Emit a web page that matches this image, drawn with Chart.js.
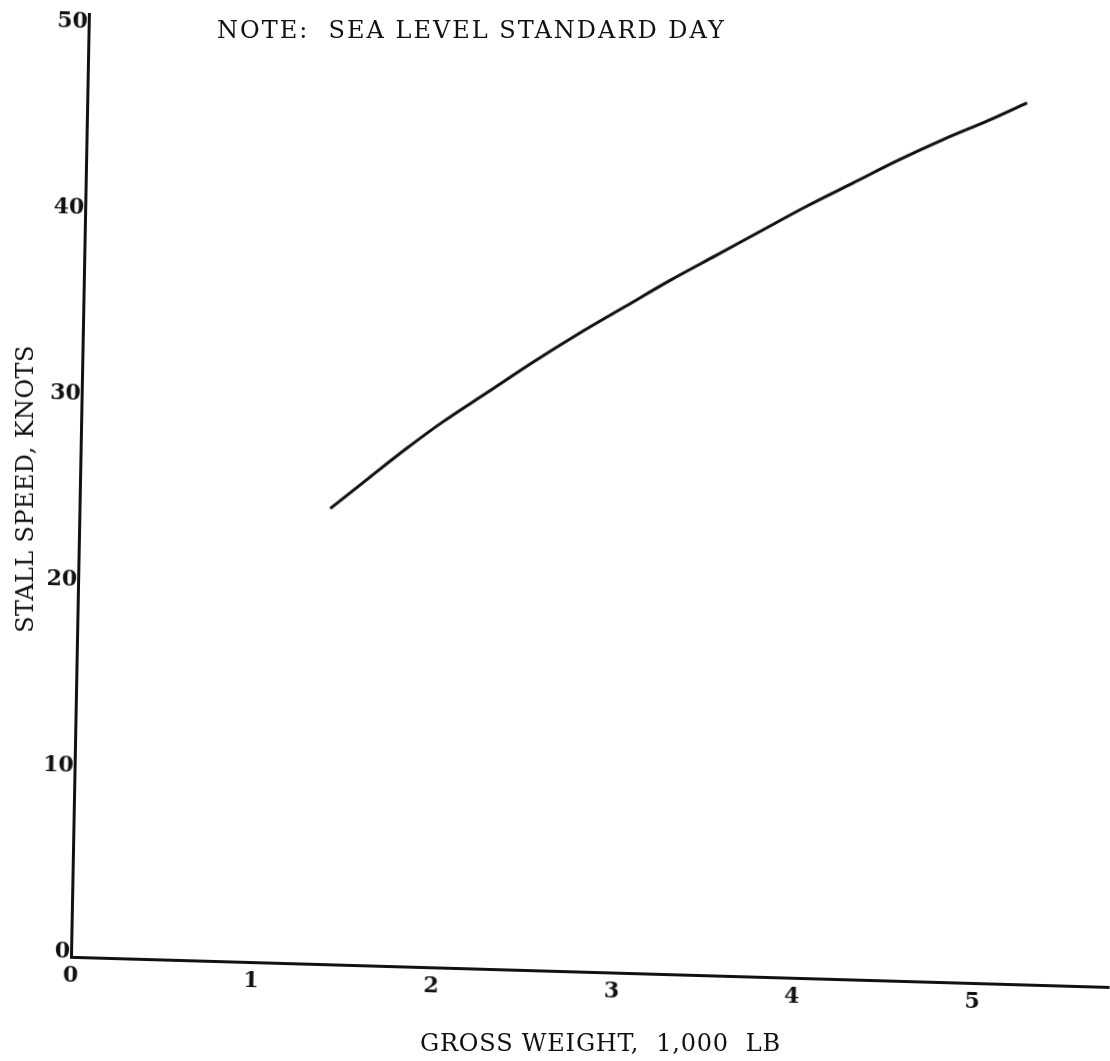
<!DOCTYPE html>
<html>
<head>
<meta charset="UTF-8" />
<title>Stall speed vs gross weight</title>
<script src="https://cdn.jsdelivr.net/npm/chart.js@4.4.1/dist/chart.umd.min.js"></script>
<style>
  html, body { margin: 0; padding: 0; background: #fff; }
  #wrap { position: relative; width: 1110px; height: 1061px; overflow: hidden;
          font-family: "DejaVu Serif", "Liberation Serif", serif; color: #111; }
  /* the sheet sits slightly rotated, so the plot itself is tilted a touch clockwise */
  #plot { position: absolute; left: 0; top: 0; width: 1110px; height: 1061px;
          transform-origin: 71px 957px; transform: matrix(1, 0.029, -0.019, 1, 0, 0); }
  .txt { position: absolute; white-space: pre; font-size: 24px; line-height: 1; }
  #note { left: 217px; top: 18px; letter-spacing: 2px; }
  #xTitle { left: 420px; top: 1031px; letter-spacing: 0.8px; }
  #yTitle { left: 25px; top: 489px; letter-spacing: 0.4px; transform: translate(-50%, -50%) rotate(-90deg); }
</style>
</head>
<body>
<div id="wrap">
  <canvas id="plot" width="1110" height="1061"></canvas>
  <div class="txt" id="note"></div>
  <div class="txt" id="xTitle"></div>
  <div class="txt" id="yTitle"></div>
</div>

<script>
// gross weight (1,000 lb) and stall speed (knots)
const grossWeight = [1.39, 1.6, 1.8, 2.0, 2.25, 2.5, 2.75, 3.0, 3.25, 3.5, 3.75, 4.0, 4.25, 4.5, 4.75, 5.0, 5.21];
const stallSpeed  = [24.5, 26.2, 27.8, 29.3, 31.0, 32.7, 34.3, 35.8, 37.3, 38.7, 40.1, 41.5, 42.8, 44.1, 45.3, 46.4, 47.4];
const xTicks = [0, 1, 2, 3, 4, 5];
const yTicks = [0, 10, 20, 30, 40, 50];
const noteText = "NOTE:  SEA LEVEL STANDARD DAY";
const xTitle = "GROSS WEIGHT,  1,000  LB";
const yTitle = "STALL SPEED, KNOTS";

document.getElementById("note").textContent = noteText;
document.getElementById("xTitle").textContent = xTitle;
document.getElementById("yTitle").textContent = yTitle;

const tickFont = { family: '"DejaVu Serif", "Liberation Serif", serif', size: 22, weight: "bold" };

new Chart(document.getElementById("plot"), {
  type: "scatter",
  data: {
    datasets: [{
      data: grossWeight.map((w, i) => ({ x: w, y: stallSpeed[i] })),
      showLine: true,
      borderColor: "#111",
      borderWidth: 3,
      pointRadius: 0,
      cubicInterpolationMode: "monotone",
    }],
  },
  options: {
    responsive: false,
    animation: false,
    layout: { padding: { top: 14, right: 0, left: 0, bottom: 0 } },
    plugins: { legend: { display: false }, tooltip: { enabled: false } },
    scales: {
      x: {
        type: "linear",
        min: 0,
        max: 5.76,
        afterFit: (s) => { s.height = 104; },
        afterBuildTicks: (s) => { s.ticks = xTicks.map((v) => ({ value: v })); },
        grid: { display: false, drawTicks: false },
        border: { display: true, color: "#111", width: 3 },
        ticks: { color: "#111", padding: 6, font: tickFont },
      },
      y: {
        type: "linear",
        min: 0,
        max: 50.7,
        afterFit: (s) => { s.width = 71; },
        afterBuildTicks: (s) => { s.ticks = yTicks.map((v) => ({ value: v })); },
        grid: { display: false, drawTicks: false },
        border: { display: true, color: "#111", width: 3 },
        ticks: { color: "#111", padding: 1, labelOffset: -5, font: tickFont },
      },
    },
  },
});
</script>
</body>
</html>
